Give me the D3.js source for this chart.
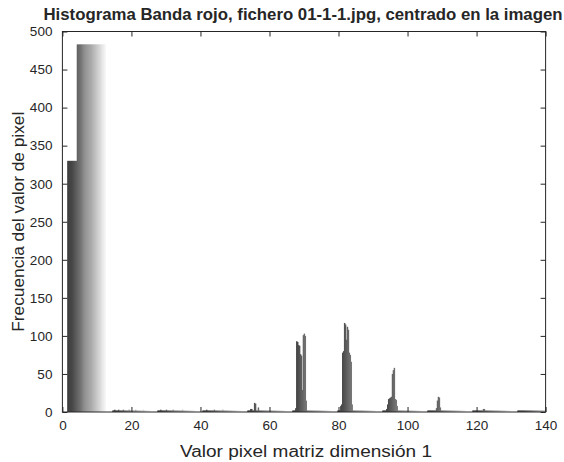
<!DOCTYPE html>
<html>
<head>
<meta charset="utf-8">
<script src="https://cdn.jsdelivr.net/npm/d3@7"></script>
<style>
  html, body { margin: 0; padding: 0; background: #ffffff; }
  svg { display: block; }
  text { font-family: "Liberation Sans", Arial, Helvetica, sans-serif; fill: #262626; }
</style>
</head>
<body>
<svg id="chart" width="564" height="462"></svg>
<script>
// ---- Data ----
const titleText = "Histograma Banda rojo, fichero 01-1-1.jpg, centrado en la imagen";
const xLabel = "Valor pixel matriz dimensión 1";
const yLabel = "Frecuencia del valor de pixel";
const xTicks = [0, 20, 40, 60, 80, 100, 120, 140];
const yTicks = [0, 50, 100, 150, 200, 250, 300, 350, 400, 450, 500];

// Start of each group of bars (pixel value axis)
const groupStarts = [1.4, 14.44, 27.48, 40.52, 53.56, 66.6, 79.64, 92.68, 105.72, 118.76, 131.8];
const groupWidth = 11;

// Frequencies of the 40 series inside each group
const group0 = [330,330,330,330,330,330,330,330,330,330,483,483,483,483,483,483,483,483,483,483,483,483,483,483,483,483,483,483,483,483,483,483,483,483,483,483,483,483,483,483];
const group1 = [2,2,3,2,2,2,3,2,2,2,2,3,2,2,2,2,2,3,2,2,2,2,2,2,3,2,2,2,2,2,2,2,3,2,2,2,2,2,2,2];
const group2 = [2,2,2,3,2,2,2,2,2,3,2,2,2,2,2,2,3,2,2,2,2,2,2,2,2,2,3,2,2,2,2,2,2,2,2,2,2,2,2,2];
const group3 = [2,2,2,2,3,2,2,2,2,2,2,2,3,2,2,2,2,2,2,2,2,3,2,2,2,2,2,2,2,2,2,2,2,2,2,2,2,2,2,2];
const group4 = [2,2,2,4,4,2,2,12,11,2,2,6,2,2,2,2,2,2,2,2,2,2,2,2,2,2,2,2,2,2,2,2,2,2,2,2,2,2,2,2];
const group5 = [2,2,2,5,93,92,88,87,76,74,29,101,103,100,15,2,2,2,2,2,2,2,2,2,2,2,2,2,2,2,2,2,2,2,2,2,2,2,2,2];
const group6 = [2,2,2,8,10,78,80,117,115,95,112,108,78,75,66,10,2,2,2,2,2,2,2,2,2,2,2,2,2,2,2,2,2,2,2,2,2,2,2,2];
const group7 = [2,2,2,2,4,10,17,18,19,20,50,55,58,17,16,8,2,2,2,2,2,2,2,2,2,2,2,2,2,2,2,2,2,2,2,2,2,2,2,2];
const group8 = [2,2,2,2,2,2,2,2,2,5,15,20,19,6,2,2,2,2,2,2,2,2,2,2,2,2,2,2,2,2,2,2,2,2,2,2,2,2,2,2];
const group9 = [2,2,2,2,2,2,2,2,2,2,2,4,4,2,2,2,2,2,2,2,2,2,2,2,2,2,2,2,2,2,2,2,2,2,2,2,2,2,2,2];
const group10 = [2,2,2,2,2,2,2,2,2,2,2,2,2,2,2,2,2,2,2,2,2,2,2,2,2,2,2,2,2,2,2,2,2,2,2,2,2,2,2,2];
const groups = [group0, group1, group2, group3, group4, group5, group6, group7, group8, group9, group10];

// ---- Layout ----
const W = 564, H = 462;
const plot = { left: 62.4, right: 545.6, top: 31.5, bottom: 412 };

const svg = d3.select("#chart");
const x = d3.scaleLinear().domain([0, 140]).range([plot.left, plot.right]);
const y = d3.scaleLinear().domain([0, 500]).range([plot.bottom, plot.top]);

const nSeries = group0.length;
const seriesIdx = d3.range(nSeries);
const color = d3.scaleLinear().domain([0, nSeries - 1]).range(["#303030", "#f2f2f2"]).interpolate(d3.interpolateRgb);
const sub = d3.scaleBand().domain(seriesIdx).range([0, groupWidth]).padding(0);

svg.append("defs").append("clipPath").attr("id", "clip")
  .append("rect")
  .attr("x", plot.left).attr("y", plot.top)
  .attr("width", plot.right - plot.left).attr("height", plot.bottom - plot.top);

const bars = [];
groups.forEach((vals, g) => {
  vals.forEach((v, i) => bars.push({ g, i, v, x0: groupStarts[g] + sub(i) }));
});

const bw = x(sub.bandwidth()) - x(0);
svg.append("g").attr("clip-path", "url(#clip)")
  .selectAll("rect").data(bars).join("rect")
  .attr("x", d => x(d.x0))
  .attr("width", bw + 0.5)
  .attr("y", d => y(d.v))
  .attr("height", d => y(0) - y(d.v))
  .attr("fill", d => color(d.i));

// ---- Axes (box with inward ticks on all sides) ----
const axisColor = "#262626";
const fontSize = 13.5;

const gx = svg.append("g").attr("transform", `translate(0,${plot.bottom})`)
  .call(d3.axisBottom(x).tickValues(xTicks).tickSizeInner(-5).tickSizeOuter(0).tickPadding(8));
const gy = svg.append("g").attr("transform", `translate(${plot.left},0)`)
  .call(d3.axisLeft(y).tickValues(yTicks).tickSizeInner(-5).tickSizeOuter(0).tickPadding(10));
const gxt = svg.append("g").attr("transform", `translate(0,${plot.top})`)
  .call(d3.axisTop(x).tickValues(xTicks).tickSizeInner(-5).tickSizeOuter(0).tickFormat(""));
const gyr = svg.append("g").attr("transform", `translate(${plot.right},0)`)
  .call(d3.axisRight(y).tickValues(yTicks).tickSizeInner(-5).tickSizeOuter(0).tickFormat(""));

[gx, gy, gxt, gyr].forEach(g => {
  g.select(".domain").remove();
  g.selectAll(".tick line").attr("stroke", axisColor).attr("stroke-width", 1);
  g.selectAll(".tick text").attr("fill", axisColor)
    .style("font-family", '"Liberation Sans", Arial, Helvetica, sans-serif')
    .style("font-size", fontSize + "px");
});

svg.append("rect")
  .attr("x", plot.left).attr("y", plot.top)
  .attr("width", plot.right - plot.left).attr("height", plot.bottom - plot.top)
  .attr("fill", "none").attr("stroke", axisColor).attr("stroke-width", 1);

// ---- Titles ----
svg.append("text")
  .attr("x", 303)
  .attr("y", 20)
  .attr("text-anchor", "middle")
  .attr("textLength", 519)
  .attr("lengthAdjust", "spacingAndGlyphs")
  .style("font-size", "16px").style("font-weight", "bold")
  .attr("fill", "#000")
  .text(titleText);

svg.append("text")
  .attr("x", 306)
  .attr("y", 457)
  .attr("text-anchor", "middle")
  .attr("textLength", 252)
  .attr("lengthAdjust", "spacingAndGlyphs")
  .style("font-size", "16px")
  .text(xLabel);

svg.append("text")
  .attr("transform", `translate(24,${(plot.top + plot.bottom) / 2}) rotate(-90)`)
  .attr("text-anchor", "middle")
  .attr("textLength", 220)
  .attr("lengthAdjust", "spacingAndGlyphs")
  .style("font-size", "16px")
  .text(yLabel);
</script>
</body>
</html>
